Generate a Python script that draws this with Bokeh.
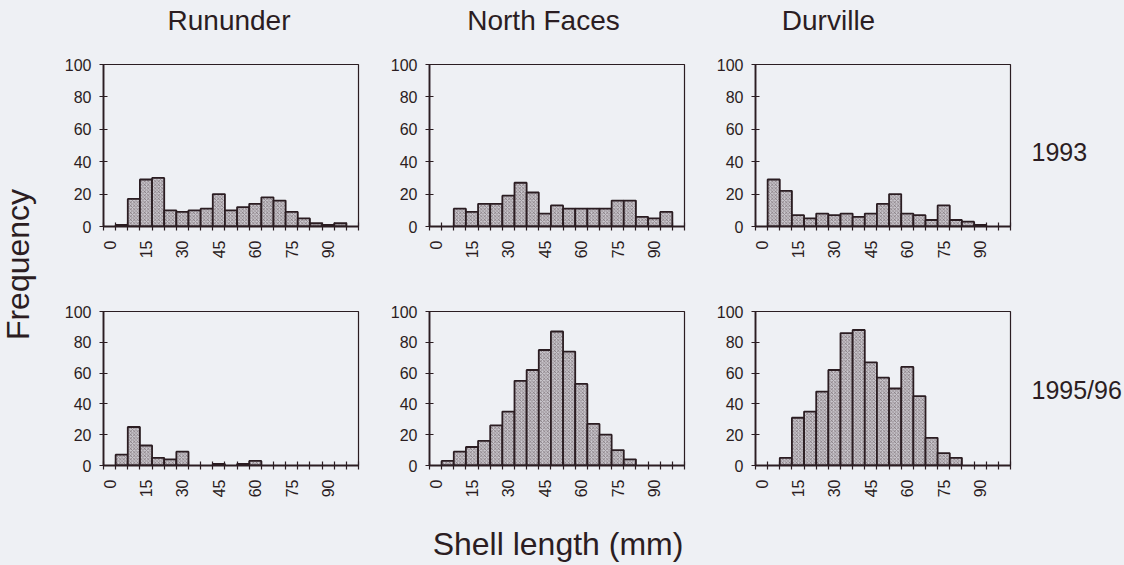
from math import pi
from bokeh.plotting import figure
from bokeh.layouts import row, column
from bokeh.models import Range1d, FixedTicker, Label
from bokeh.embed import file_html
from bokeh.resources import INLINE

# ---------------- data ----------------
bin_starts = [0, 5, 10, 15, 20, 25, 30, 35, 40, 45, 50, 55, 60, 65, 70, 75, 80, 85, 90, 95]
bin_width = 5
tick_labels = ["0", "15", "30", "45", "60", "75", "90"]
y_ticks = [0, 20, 40, 60, 80, 100]

sites = ["Rununder", "North Faces", "Durville"]
years = ["1993", "1995/96"]

rununder_1993 = [0, 1, 17, 29, 30, 10, 9, 10, 11, 20, 10, 12, 14, 18, 16, 9, 5, 2, 1, 2]
north_faces_1993 = [0, 0, 11, 9, 14, 14, 19, 27, 21, 8, 13, 11, 11, 11, 11, 16, 16, 6, 5, 9]
durville_1993 = [0, 29, 22, 7, 5, 8, 7, 8, 6, 8, 14, 20, 8, 7, 4, 13, 4, 3, 1, 0]
rununder_1995 = [0, 7, 25, 13, 5, 4, 9, 0, 0, 1, 0, 1, 3, 0, 0, 0, 0, 0, 0, 0]
north_faces_1995 = [0, 3, 9, 12, 16, 26, 35, 55, 62, 75, 87, 74, 53, 27, 20, 10, 4, 0, 0, 0]
durville_1995 = [0, 0, 5, 31, 35, 48, 62, 86, 88, 67, 57, 50, 64, 45, 18, 8, 5, 0, 0, 0]

# ---------------- style ----------------
BG = "#eef0f4"
INK = "#2b1d22"
FONT = "Liberation Sans"

x_max = bin_starts[-1] + 2 * bin_width
label_pos = [bin_starts[i] + bin_width / 2 for i in range(0, len(bin_starts), 3)][:len(tick_labels)]
boundaries = [s for s in bin_starts] + [bin_starts[-1] + bin_width, x_max]


def panel(vals, top_row):
    h = 222 if top_row else 225
    mbt = 11 if top_row else 36
    mbb = 49 if top_row else 34
    p = figure(width=326, height=h, x_range=Range1d(0, x_max), y_range=Range1d(0, 100),
               output_backend="svg", toolbar_location=None, title=None,
               min_border_left=55, min_border_right=16,
               min_border_top=mbt, min_border_bottom=mbb)
    p.background_fill_color = BG
    p.border_fill_color = BG
    p.outline_line_color = INK
    p.outline_line_width = 1.2
    p.grid.visible = False

    left = [s for s, v in zip(bin_starts, vals) if v > 0]
    right = [s + bin_width for s, v in zip(bin_starts, vals) if v > 0]
    top = [v for v in vals if v > 0]
    p.quad(left=left, right=right, bottom=0, top=top,
           fill_color="#cac7cd", line_color=INK, line_width=1.8,
           hatch_pattern="diagonal_cross", hatch_color="#4a3a40",
           hatch_scale=3.5, hatch_weight=0.6, hatch_alpha=0.75)

    xa = p.xaxis[0]
    xa.ticker = FixedTicker(ticks=label_pos, minor_ticks=boundaries)
    xa.major_label_overrides = {pos: lab for pos, lab in zip(label_pos, tick_labels)}
    xa.major_tick_in = 0
    xa.major_tick_out = 0
    xa.minor_tick_in = 4
    xa.minor_tick_out = 4
    xa.minor_tick_line_color = INK
    xa.minor_tick_line_width = 1.2
    xa.major_label_orientation = pi / 2
    xa.major_label_standoff = 10

    ya = p.yaxis[0]
    ya.ticker = FixedTicker(ticks=y_ticks)
    ya.minor_tick_line_color = None
    ya.major_tick_in = 4
    ya.major_tick_out = 4
    ya.major_label_standoff = 8

    for ax in (xa, ya):
        ax.axis_line_color = INK
        ax.axis_line_width = 1.8
        ax.major_tick_line_color = INK
        ax.major_tick_line_width = 1.2
        ax.major_label_text_font = FONT
        ax.major_label_text_font_size = "16px"
        ax.major_label_text_color = INK
    return p


def strip(w, h):
    s = figure(width=w, height=h, x_range=Range1d(0, w), y_range=Range1d(0, h),
               x_axis_type=None, y_axis_type=None, toolbar_location=None,
               output_backend="svg", min_border=0, title=None)
    s.outline_line_color = None
    s.background_fill_color = BG
    s.border_fill_color = BG
    s.grid.visible = False
    return s


def text(s, x, y, t, size, align="center", baseline="alphabetic", angle=0):
    s.add_layout(Label(x=x, y=y, text=t, text_font=FONT, text_font_size=size,
                       text_color=INK, text_align=align, text_baseline=baseline,
                       angle=angle))


f11 = panel(rununder_1993, True)
f12 = panel(north_faces_1993, True)
f13 = panel(durville_1993, True)
f21 = panel(rununder_1995, False)
f22 = panel(north_faces_1995, False)
f23 = panel(durville_1995, False)

title_strip = strip(1124, 53)
for x, t in zip([228.5, 543, 828], sites):
    text(title_strip, x, 33, t, "28px")

left_strip = strip(48, 447)
text(left_strip, 17, 236, "Frequency", "32px", baseline="middle", angle=pi / 2)

right_strip = strip(98, 447)
text(right_strip, 5, 349, years[0], "25px", align="left", baseline="middle")
text(right_strip, 5, 111, years[1], "25px", align="left", baseline="middle")

bottom_strip = strip(1124, 65)
text(bottom_strip, 557.5, 22, "Shell length (mm)", "32px")

grid = column(row(f11, f12, f13), row(f21, f22, f23))
page = column(title_strip, row(left_strip, grid, right_strip), bottom_strip)

html = file_html(page, INLINE)
html = html.replace("</head>", "<style>html,body{background:#eef0f4;}</style></head>", 1)
open("out.html", "w").write(html)
